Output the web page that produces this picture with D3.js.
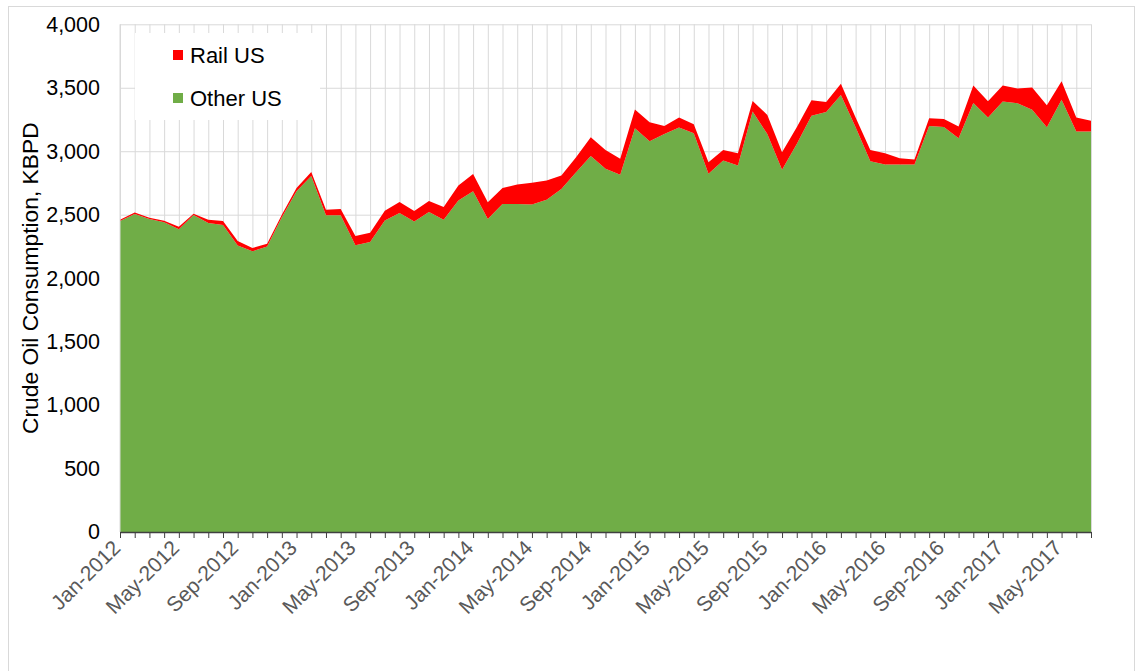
<!DOCTYPE html>
<html>
<head>
<meta charset="utf-8">
<script src="https://cdn.jsdelivr.net/npm/d3@7"></script>
<style>
  body { margin: 0; background: #fff; }
  text { font-family: "Liberation Sans", Arial, sans-serif; }
</style>
</head>
<body>
<svg id="chart" width="1144" height="671"></svg>
<script>
// monthly categories, Jan-2012 .. Jul-2017
const months = d3.timeMonth.range(new Date(2012, 0, 1), new Date(2017, 7, 1));

// KBPD
const otherUS = [
  2450, 2505, 2466, 2440, 2385, 2497, 2434, 2419, 2258, 2211, 2250, 2480,
  2684, 2804, 2495, 2495, 2259, 2285, 2455, 2513, 2447, 2521, 2461, 2612,
  2685, 2467, 2585, 2585, 2580, 2617, 2703, 2835, 2963, 2861, 2815, 3182,
  3078, 3135, 3187, 3141, 2823, 2927, 2888, 3312, 3135, 2855, 3057, 3279,
  3310, 3443, 3188, 2922, 2896, 2896, 2896, 3198, 3190, 3102, 3380, 3266,
  3391, 3378, 3326, 3188, 3406, 3156, 3156
];
const railUS = [
  10, 13, 10, 13, 20, 11, 26, 31, 35, 26, 22, 20,
  26, 32, 44, 50, 73, 73, 76, 87, 82, 87, 99, 118,
  136, 131, 126, 153, 171, 152, 105, 118, 147, 149, 125, 146,
  151, 63, 79, 72, 91, 83, 96, 84, 151, 137, 131, 122,
  78, 88, 78, 88, 88, 49, 39, 62, 64, 93, 138, 127,
  127, 117, 177, 174, 146, 110, 84
];

const seriesKeys = ["other", "rail"];
const seriesLabels = { other: "Other US", rail: "Rail US" };
const seriesColors = { other: "#70AD47", rail: "#FF0000" };
const yTicks = [0, 500, 1000, 1500, 2000, 2500, 3000, 3500, 4000];
const labelEvery = 4; // Jan, May, Sep
const yTitle = "Crude Oil Consumption, KBPD";

const svg = d3.select("#chart");
const plotLeft = 120, plotRight = 1091, plotTop = 24.3, plotBottom = 532;

// outer chart border
svg.append("rect")
  .attr("x", 8.5).attr("y", 6.5)
  .attr("width", 1126).attr("height", 700)
  .attr("fill", "#fff").attr("stroke", "#d9d9d9");

const table = months.map((m, i) => ({ month: m, other: otherUS[i], rail: railUS[i] }));
const stacked = d3.stack().keys(seriesKeys)(table);

const x = d3.scalePoint().domain(d3.range(months.length)).range([plotLeft, plotRight]);
const y = d3.scaleLinear().domain([0, 4000]).range([plotBottom, plotTop]);
const fmtMonth = d3.timeFormat("%b-%Y");

// horizontal gridlines + y labels
const yAxis = svg.append("g")
  .attr("transform", `translate(${plotLeft},0)`)
  .call(d3.axisLeft(y).tickValues(yTicks).tickFormat(d3.format(","))
    .tickSize(-(plotRight - plotLeft)).tickPadding(20));
yAxis.select(".domain").remove();
yAxis.selectAll(".tick line").attr("stroke", "#d9d9d9");
yAxis.selectAll(".tick text").attr("font-size", 21.5).attr("fill", "#000");

// vertical gridlines, one per month
const xGrid = svg.append("g")
  .attr("transform", `translate(0,${plotBottom})`)
  .call(d3.axisBottom(x).tickSize(-(plotBottom - plotTop)).tickFormat(""));
xGrid.select(".domain").remove();
xGrid.selectAll(".tick line").attr("stroke", "#d9d9d9");

// legend box masks the grid behind it
svg.append("rect")
  .attr("x", 135).attr("y", 33).attr("width", 185).attr("height", 87)
  .attr("fill", "#fff");

// stacked areas
const area = d3.area()
  .x((d, i) => x(i))
  .y0(d => y(d[0]))
  .y1(d => y(d[1]));

svg.append("g").selectAll("path")
  .data(stacked)
  .join("path")
  .attr("d", area)
  .attr("fill", d => seriesColors[d.key]);

// left edge line
svg.append("line")
  .attr("x1", plotLeft).attr("x2", plotLeft).attr("y1", plotTop).attr("y2", plotBottom)
  .attr("stroke", "#d9d9d9");

// bottom axis with monthly ticks, labels every 4 months
const xAxis = svg.append("g")
  .attr("transform", `translate(0,${plotBottom})`)
  .call(d3.axisBottom(x).tickSize(6).tickSizeOuter(0)
    .tickFormat(i => i % labelEvery === 0 ? fmtMonth(months[i]) : ""));
xAxis.select(".domain").attr("stroke", "#404040").attr("stroke-width", 1.3);
xAxis.selectAll(".tick line").attr("stroke", "#404040");
xAxis.selectAll(".tick text")
  .attr("font-size", 21)
  .attr("fill", "#595959")
  .attr("text-anchor", "end")
  .attr("transform", "translate(-4,12) rotate(-45)")
  .attr("dy", "0.35em")
  .attr("y", 0)
  .attr("x", 0);

// y axis title
svg.append("text")
  .attr("transform", `translate(38,${(plotTop + plotBottom) / 2}) rotate(-90)`)
  .attr("text-anchor", "middle")
  .attr("font-size", 22.8)
  .attr("fill", "#000")
  .text(yTitle);

// legend, rail first
const legend = svg.append("g")
  .selectAll("g")
  .data(["rail", "other"])
  .join("g")
  .attr("transform", (d, i) => `translate(173,${55 + i * 43})`);
legend.append("rect")
  .attr("x", 0).attr("y", -5).attr("width", 10).attr("height", 10)
  .attr("fill", d => seriesColors[d]);
legend.append("text")
  .attr("x", 17).attr("y", 0).attr("dy", "0.35em")
  .attr("font-size", 22)
  .attr("fill", "#000")
  .text(d => seriesLabels[d]);
</script>
</body>
</html>
